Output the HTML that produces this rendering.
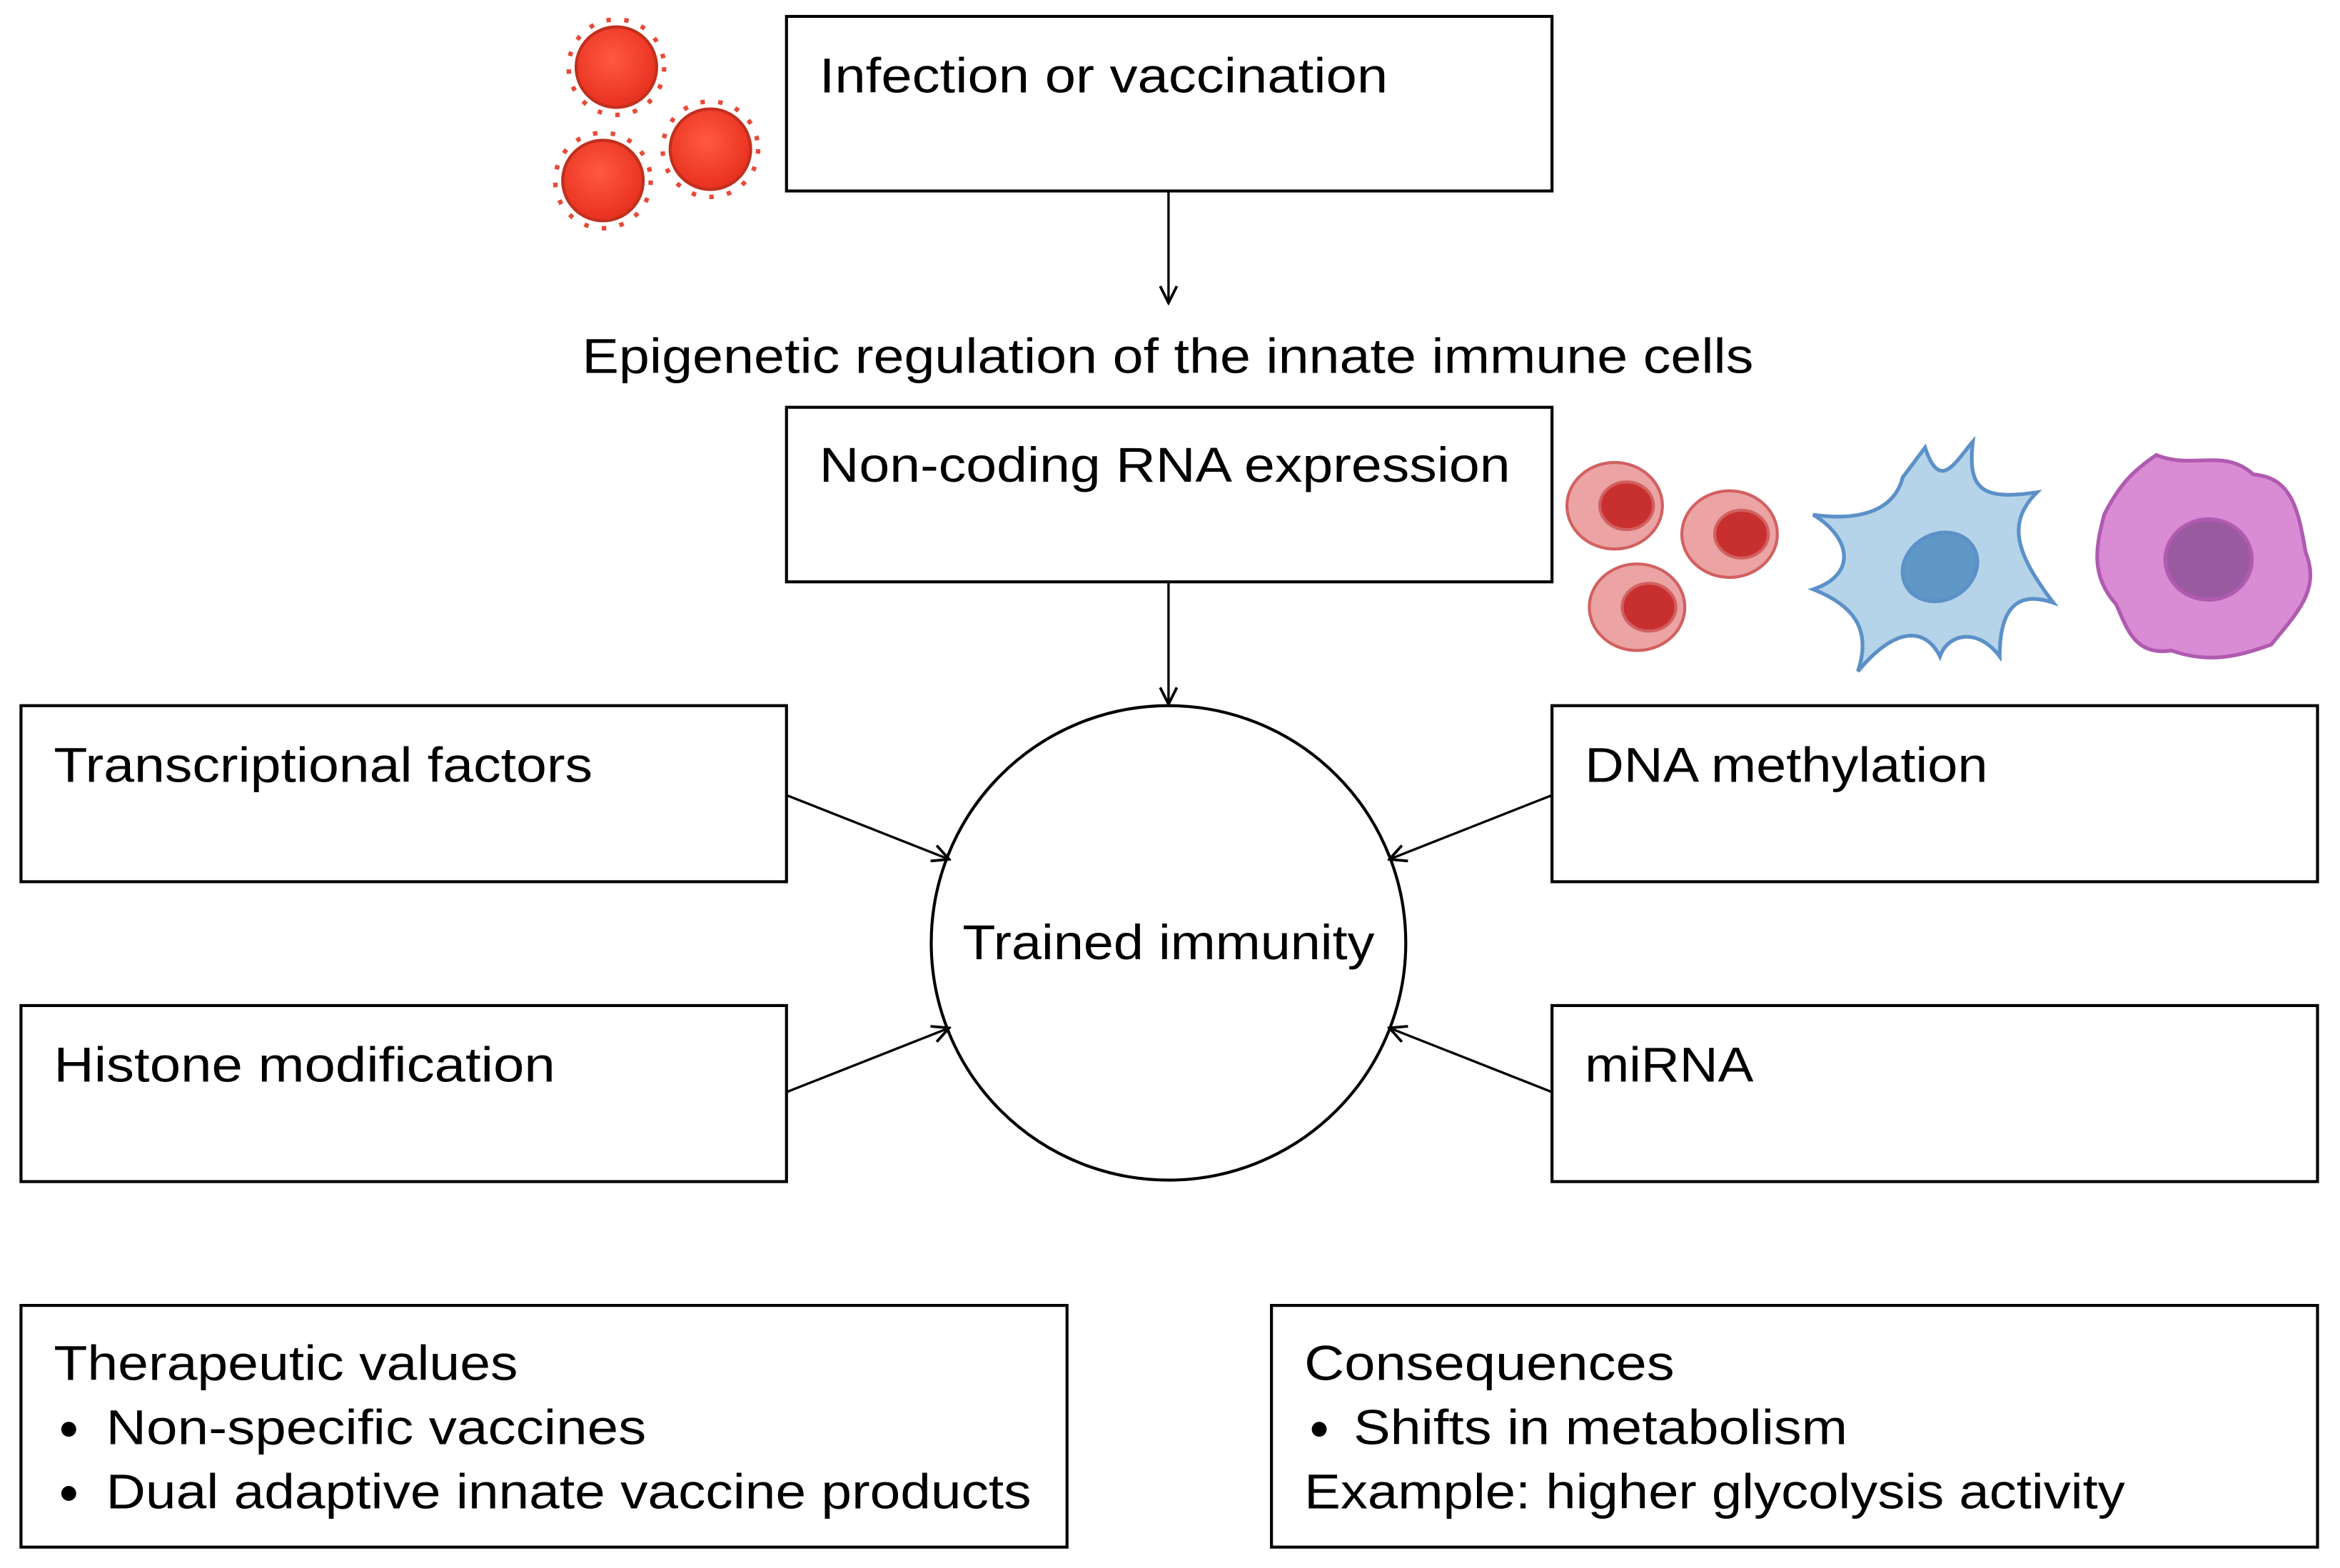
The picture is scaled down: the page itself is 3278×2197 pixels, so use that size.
<!DOCTYPE html>
<html><head><meta charset="utf-8"><style>html,body{margin:0;padding:0;background:#fff}svg{display:block}</style></head>
<body>
<svg width="3278" height="2197" viewBox="0 0 1568 1051" xmlns="http://www.w3.org/2000/svg" font-family="Liberation Sans, sans-serif" font-size="33" fill="#000">
<defs>
<marker id="a" viewBox="0 0 10 10" refX="9" refY="5" markerWidth="14" markerHeight="14" markerUnits="userSpaceOnUse" orient="auto"><path d="M1,1 L9,5 L1,9" fill="none" stroke="#000" stroke-width="1.3"/></marker>
<radialGradient id="v" cx="0.45" cy="0.4" r="0.6"><stop offset="0" stop-color="#ff5a40"/><stop offset="1" stop-color="#e8301f"/></radialGradient>
</defs>
<g fill="none" stroke="#000" stroke-width="2">
<rect x="527" y="11" width="513" height="117"/>
<rect x="527" y="273" width="513" height="117"/>
<rect x="14" y="473" width="513" height="118"/>
<rect x="14" y="674" width="513" height="118"/>
<rect x="1040" y="473" width="513" height="118"/>
<rect x="1040" y="674" width="513" height="118"/>
<rect x="14" y="875" width="701" height="162"/>
<rect x="852" y="875" width="701" height="162"/>
<circle cx="783" cy="632" r="159"/>
</g>
<g stroke="#000" stroke-width="1.6" fill="none" marker-end="url(#a)">
<line x1="783" y1="128" x2="783" y2="203"/>
<line x1="783" y1="390" x2="783" y2="472"/>
<line x1="527" y1="533" x2="636" y2="576"/>
<line x1="527" y1="732" x2="636" y2="689"/>
<line x1="1040" y1="533" x2="931" y2="576"/>
<line x1="1040" y1="732" x2="931" y2="689"/>
</g>
<!-- viruses -->
<g stroke="#c0301e" stroke-width="2">
<g fill="url(#v)"><circle cx="413" cy="45" r="27"/><circle cx="476" cy="100" r="27"/><circle cx="404" cy="121" r="27"/></g>
<g stroke="#e84a3a" stroke-width="3" stroke-dasharray="3 9" fill="none"><circle cx="413" cy="45" r="32"/><circle cx="476" cy="100" r="32"/><circle cx="404" cy="121" r="32"/></g>
</g>
<!-- red blood cells -->
<g stroke="#d26060" stroke-width="2">
<ellipse cx="1082" cy="339" rx="32" ry="29" fill="#eba3a3"/><ellipse cx="1090" cy="339" rx="18" ry="16" fill="#c8302f"/>
<ellipse cx="1159" cy="358" rx="32" ry="29" fill="#eba3a3"/><ellipse cx="1167" cy="358" rx="18" ry="16" fill="#c8302f"/>
<ellipse cx="1097" cy="407" rx="32" ry="29" fill="#eba3a3"/><ellipse cx="1105" cy="407" rx="18" ry="16" fill="#c8302f"/>
</g>
<!-- dendritic cell -->
<g stroke="#5c90c8" stroke-width="2.5" fill="#b5d4e9">
<path d="M1290,300 C1300,330 1310,310 1322,296 C1318,330 1330,335 1365,330 C1345,350 1350,370 1376,404 C1350,395 1340,410 1340,440 C1325,420 1305,425 1300,440 C1290,420 1270,420 1245,450 C1255,420 1240,405 1215,395 C1245,385 1240,360 1215,345 C1250,350 1270,340 1275,320 Z"/>
<ellipse cx="1300" cy="380" rx="26" ry="22" fill="#5f97c6" transform="rotate(-30 1300 380)"/>
</g>
<!-- macrophage -->
<g stroke="#b05ab0" stroke-width="2.5">
<path d="M1445,305 C1470,315 1490,300 1510,318 C1535,320 1540,340 1545,370 C1555,395 1540,410 1522,432 C1500,440 1480,445 1455,436 C1430,440 1425,420 1418,405 C1400,385 1405,365 1410,345 C1420,325 1430,315 1445,305 Z" fill="#d98bd4"/>
<ellipse cx="1480" cy="375" rx="29" ry="27" fill="#9a5aa0"/>
</g>
<text x="549" y="62" textLength="381" lengthAdjust="spacingAndGlyphs">Infection or vaccination</text>
<text x="390" y="250" textLength="785" lengthAdjust="spacingAndGlyphs">Epigenetic regulation of the innate immune cells</text>
<text x="549" y="323" textLength="463" lengthAdjust="spacingAndGlyphs">Non-coding RNA expression</text>
<text x="36" y="524" textLength="361" lengthAdjust="spacingAndGlyphs">Transcriptional factors</text>
<text x="36" y="725" textLength="336" lengthAdjust="spacingAndGlyphs">Histone modification</text>
<text x="1062" y="524" textLength="270" lengthAdjust="spacingAndGlyphs">DNA methylation</text>
<text x="1062" y="725" textLength="113" lengthAdjust="spacingAndGlyphs">miRNA</text>
<text x="645" y="643" textLength="276" lengthAdjust="spacingAndGlyphs">Trained immunity</text>
<text x="36" y="925" textLength="311" lengthAdjust="spacingAndGlyphs">Therapeutic values</text>
<circle cx="46" cy="958" r="5"/>
<text x="71" y="968" textLength="362" lengthAdjust="spacingAndGlyphs">Non-specific vaccines</text>
<circle cx="46" cy="1001" r="5"/>
<text x="71" y="1011" textLength="620" lengthAdjust="spacingAndGlyphs">Dual adaptive innate vaccine products</text>
<text x="874" y="925" textLength="248" lengthAdjust="spacingAndGlyphs">Consequences</text>
<circle cx="884" cy="958" r="5"/>
<text x="907" y="968" textLength="331" lengthAdjust="spacingAndGlyphs">Shifts in metabolism</text>
<text x="874" y="1011" textLength="550" lengthAdjust="spacingAndGlyphs">Example: higher glycolysis activity</text>
</svg>
</body></html>
